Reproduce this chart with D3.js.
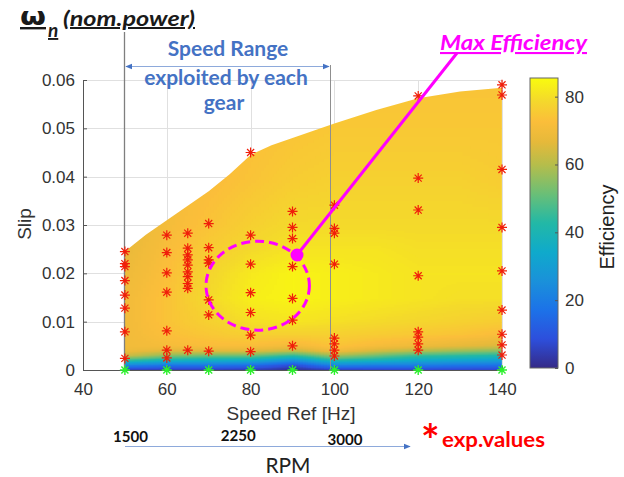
<!DOCTYPE html>
<html><head><meta charset="utf-8">
<script src="https://cdn.jsdelivr.net/npm/d3@7"></script>
<style>body{margin:0;background:#fff}svg{display:block}</style>
</head><body>
<svg id="chart" width="624" height="477"></svg>
<script>
// ---------------- DATA ----------------
const gridSpeeds = [50, 60, 70, 80, 90, 100, 110, 120, 130, 140];
const gridSlips  = [0, 0.001, 0.002, 0.003, 0.004, 0.005, 0.0075, 0.01, 0.015, 0.02, 0.025, 0.03, 0.04, 0.05, 0.06];
// efficiency [%], one row per slip in gridSlips, one column per speed in gridSpeeds
const effRows = [
  [ 4,  4,  4,  4,  1,  4,  5,  6,  6,  6],
  [22, 18, 18, 16,  8, 22, 20, 20, 18, 17],
  [45, 38, 36, 35, 25, 42, 38, 34, 32, 30],
  [63, 55, 52, 52, 45, 58, 52, 46, 44, 42],
  [69, 66, 66, 66, 62, 70, 64, 60, 57, 55],
  [70, 71, 72, 72, 70, 74, 71, 69, 67, 65],
  [70, 73, 75, 77, 77, 77, 76, 75, 74, 72],
  [70, 74, 77, 80, 81, 80, 79, 78, 77, 76],
  [70, 74, 79, 83, 84, 83, 82, 81, 80, 80],
  [69, 73, 78, 82, 84, 83, 82, 81, 81, 81],
  [68, 72, 76, 79, 81, 81, 81, 80, 80, 80],
  [67, 71, 74, 77, 79, 79, 79, 79, 79, 79],
  [66, 70, 72, 74, 76, 77, 77, 77, 77, 76],
  [66, 69, 71, 73, 74, 75, 75, 75, 75, 75],
  [66, 68, 70, 72, 73, 74, 74, 74, 74, 74]
];
// upper limit of the explored region
const boundarySpeeds = [50, 55, 60, 65, 70, 75, 80, 85, 90, 95, 100, 110, 120, 130, 140];
const boundarySlips  = [0.0245, 0.028, 0.031, 0.034, 0.037, 0.0405, 0.0445, 0.0465, 0.048, 0.0495, 0.051, 0.0538, 0.0562, 0.0576, 0.0584];
// experimental points (red asterisks)
const expSpeeds = [
  50,50,50,50,50,50,50,50,
  60,60,60,60,60,60,60,
  65,65,65,65,65,65,65,65,65,65,
  70,70,70,70,70,70,70,
  80,80,80,80,80,80,80,
  90,90,90,90,90,90,90,
  100,100,100,100,100,100,100,100,
  120,120,120,120,120,120,120,120,
  140,140,140,140,140,140,140,140,140
];
const expSlips = [
  0.0245,0.022,0.0214,0.0185,0.0155,0.0128,0.0079,0.0024,
  0.0279,0.0243,0.0201,0.0161,0.0081,0.0041,0.0025,
  0.0283,0.0252,0.0238,0.0228,0.0217,0.0203,0.0193,0.0179,0.0169,0.0041,
  0.0303,0.0253,0.0228,0.0221,0.0145,0.0114,0.0039,
  0.045,0.0279,0.0219,0.016,0.0119,0.0072,0.0038,
  0.0328,0.0295,0.0272,0.0214,0.0148,0.0103,0.005,
  0.0341,0.0293,0.0283,0.0219,0.0066,0.0054,0.0041,0.0029,
  0.0567,0.0397,0.0331,0.0195,0.0079,0.0068,0.0054,0.0041,
  0.059,0.0569,0.0415,0.0295,0.0205,0.0124,0.0074,0.0052,0.0031
];
// zero-slip points (green asterisks)
const zeroSpeeds = [50, 60, 70, 80, 90, 100, 120, 140];
const xTicks = [40, 60, 80, 100, 120, 140];
const yTicks = [0, 0.01, 0.02, 0.03, 0.04, 0.05, 0.06];
const cbarTicks = [0, 20, 40, 60, 80];
const rpmLabels = ["1500", "2250", "3000"];
const rpmSpeeds = [50, 75, 100];

// colormap (parula-like)
const parulaStops  = [0, 0.1, 0.2, 0.3, 0.4, 0.5, 0.6, 0.7, 0.78, 0.85, 0.92, 1];
const parulaColors = ["#352A87","#2D4FDC","#1C72E8","#1A91DA","#0FAACB","#22B8A6","#6ABF77","#B5BD4B","#E6B93A","#FBBE3A","#F4D82C","#F9FB0E"];
const cLim = [0, 85.5];

// ---------------- CHART ----------------
const svg = d3.select("#chart");
const x = d3.scaleLinear().domain([40, 140]).range([83, 502]);
const y = d3.scaleLinear().domain([0, 0.06]).range([370, 80]);
const color = d3.scaleLinear()
  .domain(parulaStops.map(t => cLim[0] + t * (cLim[1] - cLim[0])))
  .range(parulaColors).clamp(true);

const AX = "'Liberation Sans', Arial, sans-serif";
const CAL = "Lato, 'Open Sans', sans-serif";

// grid
const grid = svg.append("g").attr("stroke", "#e0e0e0").attr("stroke-width", 1);
grid.selectAll("line.v").data(xTicks).join("line")
  .attr("x1", d => Math.round(x(d)) + 0.5).attr("x2", d => Math.round(x(d)) + 0.5)
  .attr("y1", y(0)).attr("y2", y(0.06));
grid.selectAll("line.h").data(yTicks).join("line")
  .attr("y1", d => Math.round(y(d)) + 0.5).attr("y2", d => Math.round(y(d)) + 0.5)
  .attr("x1", x(40)).attr("x2", x(140));

// surface (interpolated shading done by the browser's image scaling)
const nR = gridSlips.length, nC = gridSpeeds.length;
const hx0 = x(gridSpeeds[0]), hx1 = x(gridSpeeds[nC - 1]);
const hy0 = y(gridSlips[nR - 1]), hy1 = y(gridSlips[0]);
const HW = Math.round(hx1 - hx0), HH = Math.round(hy1 - hy0);
const big = document.createElement("canvas"); big.width = HW; big.height = HH;
const bctx = big.getContext("2d");
bctx.imageSmoothingEnabled = true;
const colW = HW / (nC - 1);
for (let i = 0; i < nR - 1; i++) {
  const pair = document.createElement("canvas"); pair.width = nC; pair.height = 2;
  const pctx = pair.getContext("2d");
  const id = pctx.createImageData(nC, 2);
  for (let c = 0; c < nC; c++) {
    [effRows[i + 1][c], effRows[i][c]].forEach((v, r) => {
      const g = Math.round(v / cLim[1] * 255);
      const k = (r * nC + c) * 4;
      id.data[k] = id.data[k + 1] = id.data[k + 2] = g; id.data[k + 3] = 255;
    });
  }
  pctx.putImageData(id, 0, 0);
  const yt = (HH / (hy1 - hy0)) * (y(gridSlips[i + 1]) - hy0);
  const yb = (HH / (hy1 - hy0)) * (y(gridSlips[i]) - hy0);
  const h = yb - yt;
  bctx.save();
  bctx.beginPath(); bctx.rect(0, Math.round(yt), HW, Math.round(yb) - Math.round(yt)); bctx.clip();
  bctx.drawImage(pair, -colW / 2, yt - h / 2, colW * nC, 2 * h);
  bctx.restore();
}
const imgData = bctx.getImageData(0, 0, HW, HH);
const lut = d3.range(256).map(g => d3.rgb(color(g / 255 * cLim[1])));
for (let k = 0; k < imgData.data.length; k += 4) {
  const c = lut[imgData.data[k]];
  imgData.data[k] = c.r; imgData.data[k + 1] = c.g; imgData.data[k + 2] = c.b; imgData.data[k + 3] = 255;
}
bctx.putImageData(imgData, 0, 0);

const boundary = boundarySpeeds.map((s, i) => [s, boundarySlips[i]]);
svg.append("clipPath").attr("id", "surfClip").append("path")
  .attr("d", d3.area().x(d => x(d[0])).y0(y(0) + 1).y1(d => y(d[1]))(boundary));
svg.append("image")
  .attr("href", big.toDataURL())
  .attr("x", hx0).attr("y", hy0).attr("width", HW).attr("height", HH)
  .attr("preserveAspectRatio", "none")
  .attr("clip-path", "url(#surfClip)");

// axes
const yAxis = d3.axisLeft(y).tickValues(yTicks)
  .tickFormat(d => d === 0 ? "0" : d3.format(".2f")(d))
  .tickSizeInner(-4).tickSizeOuter(0).tickPadding(8);
const gy = svg.append("g").attr("transform", `translate(${x(40)},0)`).call(yAxis);
const xAxis = d3.axisBottom(x).tickValues(xTicks).tickSizeInner(-4).tickSizeOuter(0).tickPadding(13);
const gx = svg.append("g").attr("transform", `translate(0,${y(0)})`).call(xAxis);
[gx, gy].forEach(g => {
  g.attr("font-family", null).attr("font-size", null);
  g.selectAll("path.domain").attr("stroke", "#555");
  g.selectAll(".tick line").attr("stroke", "#555");
  g.selectAll("text").attr("font-family", AX).attr("font-size", 17).attr("fill", "#333");
});

svg.append("text").attr("transform", "translate(31,224) rotate(-90)")
  .attr("text-anchor", "middle").attr("font-family", AX).attr("font-size", 19).attr("fill", "#333").text("Slip");
svg.append("text").attr("x", 291).attr("y", 420)
  .attr("text-anchor", "middle").attr("font-family", AX).attr("font-size", 19).attr("fill", "#333").text("Speed Ref [Hz]");

// annotation: speed range lines
svg.append("line").attr("x1", 124.5).attr("x2", 124.5).attr("y1", 32).attr("y2", 369)
  .attr("stroke", "#7f7f7f").attr("stroke-width", 1.3);
svg.append("line").attr("x1", 330.5).attr("x2", 330.5).attr("y1", 65).attr("y2", 369)
  .attr("stroke", "#8f8f8f").attr("stroke-width", 1);

// asterisks
function asterisk(r) {
  const d = r * Math.SQRT1_2;
  return `M${-r},0L${r},0M0,${-r}L0,${r}M${-d},${-d}L${d},${d}M${-d},${d}L${d},${-d}`;
}
svg.append("g").selectAll("path").data(expSpeeds.map((s, i) => [s, expSlips[i]])).join("path")
  .attr("transform", d => `translate(${x(d[0])},${y(d[1])})`)
  .attr("d", asterisk(5)).attr("fill", "none").attr("stroke", "#f01e0a").attr("stroke-width", 1.2);
svg.append("g").selectAll("path").data(zeroSpeeds).join("path")
  .attr("transform", d => `translate(${x(d)},${y(0)})`)
  .attr("d", asterisk(5)).attr("fill", "none").attr("stroke", "#2cf02c").attr("stroke-width", 1.4);

// colorbar
const cY = d3.scaleLinear().domain(cLim).range([368, 78]);
const defs = svg.append("defs");
const grad = defs.append("linearGradient").attr("id", "cbarGrad")
  .attr("x1", 0).attr("y1", 1).attr("x2", 0).attr("y2", 0);
grad.selectAll("stop").data(parulaStops).join("stop")
  .attr("offset", d => d).attr("stop-color", (d, i) => parulaColors[i]);
svg.append("rect").attr("x", 530).attr("y", cY(cLim[1])).attr("width", 28)
  .attr("height", cY(0) - cY(cLim[1])).attr("fill", "url(#cbarGrad)")
  .attr("stroke", "#666").attr("stroke-width", 1);
const cAxis = d3.axisRight(cY).tickValues(cbarTicks).tickSizeInner(-3).tickSizeOuter(0).tickPadding(7);
const gc = svg.append("g").attr("transform", "translate(558,0)").call(cAxis);
gc.attr("font-family", null).attr("font-size", null);
gc.select("path.domain").remove();
gc.selectAll(".tick line").attr("stroke", "#555");
gc.selectAll("text").attr("font-family", AX).attr("font-size", 17).attr("fill", "#333");
svg.append("text").attr("transform", "translate(614,227) rotate(-90)")
  .attr("text-anchor", "middle").attr("font-family", AX).attr("font-size", 20).attr("fill", "#222").text("Efficiency");

// title
const title = svg.append("g").attr("fill", "#1a1a1a").attr("font-family", CAL)
  .attr("font-weight", "bold").attr("text-decoration", "underline");
title.append("text").attr("x", 20).attr("y", 25).attr("font-size", 24)
  .attr("font-family", "'DejaVu Sans', sans-serif")
  .attr("textLength", 26).attr("lengthAdjust", "spacingAndGlyphs").text("ω");
title.append("text").attr("x", 48).attr("y", 37).attr("font-size", 19).attr("font-style", "italic").text("n");
title.append("text").attr("x", 63).attr("y", 26).attr("font-size", 20).attr("font-style", "italic")
  .attr("textLength", 132).attr("lengthAdjust", "spacingAndGlyphs").text("(nom.power)");

// speed range annotation
const blue = "#4472C4";
const sr = svg.append("g").attr("fill", blue).attr("font-family", CAL).attr("font-weight", "bold")
  .attr("font-size", 21).attr("text-anchor", "middle");
sr.append("text").attr("x", 228).attr("y", 56).text("Speed Range");
sr.append("text").attr("x", 226).attr("y", 85).text("exploited by each");
sr.append("text").attr("x", 224).attr("y", 110).text("gear");
defs.append("marker").attr("id", "arr").attr("viewBox", "0 0 10 10").attr("refX", 9).attr("refY", 5)
  .attr("markerWidth", 7).attr("markerHeight", 7).attr("orient", "auto-start-reverse")
  .append("path").attr("d", "M0,1L10,5L0,9Z").attr("fill", blue);
svg.append("line").attr("x1", 126).attr("x2", 329).attr("y1", 66.5).attr("y2", 66.5)
  .attr("stroke", "#8eaadb").attr("stroke-width", 1)
  .attr("marker-start", "url(#arr)").attr("marker-end", "url(#arr)");

// max efficiency annotation
const mag = "#ff00ff";
svg.append("ellipse").attr("cx", 257.7).attr("cy", 285.7).attr("rx", 51.7).attr("ry", 44.5)
  .attr("fill", "none").attr("stroke", mag).attr("stroke-width", 3).attr("stroke-dasharray", "9,5");
svg.append("line").attr("x1", 297).attr("y1", 255).attr("x2", 457).attr("y2", 53)
  .attr("stroke", mag).attr("stroke-width", 3);
svg.append("circle").attr("cx", 297).attr("cy", 255).attr("r", 6.5).attr("fill", mag);
svg.append("text").attr("x", 440).attr("y", 50).attr("fill", mag).attr("font-family", CAL)
  .attr("font-weight", "bold").attr("font-style", "italic").attr("font-size", 21)
  .attr("text-decoration", "underline").attr("textLength", 147).attr("lengthAdjust", "spacingAndGlyphs")
  .text("Max Efficiency");

// RPM axis
const rpmY = [442, 441, 445];
const rpmDx = [-12, -9, -7];
svg.append("g").selectAll("text").data(rpmLabels).join("text")
  .attr("x", (d, i) => x(rpmSpeeds[i]) + rpmDx[i]).attr("y", (d, i) => rpmY[i])
  .attr("font-family", CAL).attr("font-weight", "bold").attr("font-size", 16).attr("fill", "#111")
  .attr("textLength", 35).attr("lengthAdjust", "spacingAndGlyphs").text(d => d);
svg.append("line").attr("x1", 125).attr("x2", 410).attr("y1", 446.5).attr("y2", 446.5)
  .attr("stroke", "#8eaadb").attr("stroke-width", 1).attr("marker-end", "url(#arr)");
svg.append("text").attr("x", 288).attr("y", 473).attr("text-anchor", "middle")
  .attr("font-family", CAL).attr("font-size", 21).attr("fill", "#222")
  .attr("textLength", 45).attr("lengthAdjust", "spacingAndGlyphs").text("RPM");
svg.append("text").attr("x", 421).attr("y", 456).attr("font-family", CAL).attr("font-weight", "bold")
  .attr("font-size", 44).attr("fill", "#ff0000").text("*");
svg.append("text").attr("x", 442).attr("y", 447).attr("font-family", CAL).attr("font-weight", "bold")
  .attr("font-size", 21).attr("fill", "#ff0000")
  .attr("textLength", 103).attr("lengthAdjust", "spacingAndGlyphs").text("exp.values");
</script>
</body></html>
